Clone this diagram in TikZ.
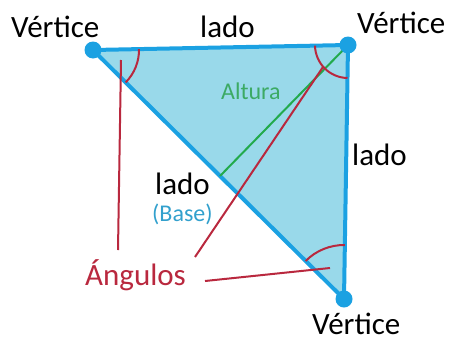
\documentclass[tikz,border=0pt]{standalone}
\usepackage{fontspec}
\setmainfont{Carlito}
\usetikzlibrary{angles,calc}
\definecolor{triblue}{RGB}{27,161,226}
\definecolor{trifill}{RGB}{153,217,234}
\definecolor{angred}{RGB}{185,40,62}
\definecolor{altgreen}{RGB}{34,170,76}
\definecolor{alttext}{RGB}{60,170,100}
\definecolor{basetext}{RGB}{50,160,205}
\tikzset{
  bigtext/.style={font=\fontsize{31}{36}\selectfont, anchor=base west, inner sep=0pt},
  smalltext/.style={font=\fontsize{24}{29}\selectfont, anchor=base west, inner sep=0pt},
  vdot/.style={circle, fill=triblue, minimum size=17pt, inner sep=0pt},
  edge/.style={draw=triblue, line width=4pt, line join=round},
  redline/.style={draw=angred, line width=2pt},
  angarc/.style={draw=angred, line width=2pt},
}
\begin{document}
\begin{tikzpicture}[x=1pt,y=-1pt]
\useasboundingbox (0,0) rectangle (457,343);
\coordinate (A) at (93,50);
\coordinate (B) at (348,45);
\coordinate (C) at (344,299);
\coordinate (F) at (220,176);
% triangle
\filldraw[edge, fill=trifill] (A) -- (B) -- (C) -- cycle;
% altitude
\draw[draw=altgreen, line width=2pt] (B) -- (F);
% angle arcs
\pic[angarc, angle radius=46pt] {angle = C--A--B};
\pic[angarc, angle radius=33pt] {angle = A--B--C};
\pic[angarc, angle radius=54pt] {angle = B--C--A};
% pointer lines
\coordinate (p1) at (121,60);
\coordinate (q1) at (118,250);
\coordinate (p2) at (323,67);
\coordinate (q2) at (195,257);
\coordinate (p3) at (330,268);
\coordinate (q3) at (205,281);
\draw[redline] (p1) -- (q1);
\draw[redline] (p2) -- (q2);
\draw[redline] (p3) -- (q3);
% vertex dots
\node[vdot] (dA) at (A) {};
\node[vdot] (dB) at (B) {};
\node[vdot] (dC) at (C) {};
% labels
\node[bigtext] (vA) at (11,37) {Vértice};
\node[bigtext] (ltop) at (200,37) {lado};
\node[bigtext] (vB) at (357,33) {Vértice};
\node[bigtext] (lright) at (352,165) {lado};
\node[bigtext] (lmid) at (155,194) {lado};
\node[smalltext, text=basetext] (base) at (152,221) {(Base)};
\node[smalltext, text=alttext] (alt) at (221,99) {Altura};
\node[bigtext, text=angred] (ang) at (85,285) {Ángulos};
\node[bigtext] (vC) at (312,334) {Vértice};
\end{tikzpicture}
\end{document}
